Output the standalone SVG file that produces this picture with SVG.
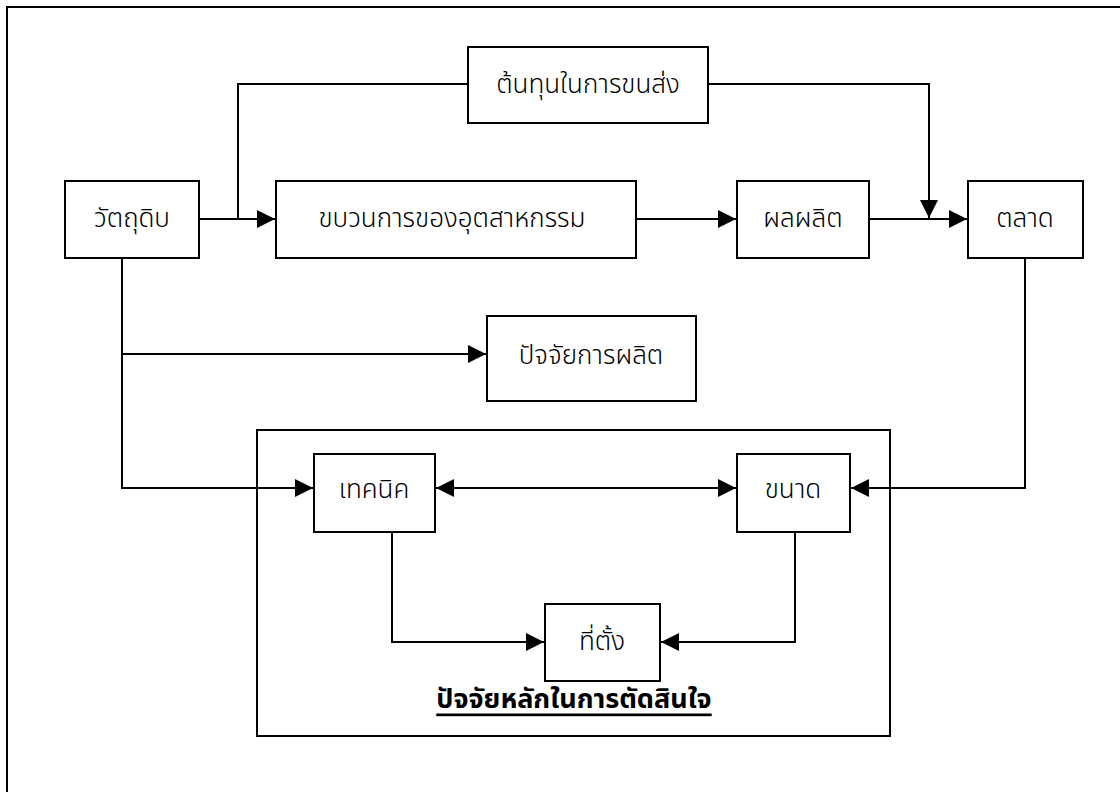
<svg xmlns="http://www.w3.org/2000/svg" width="1120" height="792" viewBox="0 0 1120 792">
<style>
.box{fill:#fff;stroke:#000;stroke-width:2}
.frame{fill:none;stroke:#000;stroke-width:2}
.ln{fill:none;stroke:#000;stroke-width:2}
.t{font-family:"Noto Sans Thai","Noto Sans","DejaVu Sans",sans-serif;font-size:26px;font-weight:300;fill:#000;text-anchor:middle;dominant-baseline:central}
.tb{font-size:27px;font-weight:bold;text-decoration:underline}
</style>
<defs>
<marker id="ah" markerUnits="userSpaceOnUse" markerWidth="20" markerHeight="18" refX="18" refY="9" orient="auto-start-reverse">
<path d="M0,0 L18,9 L0,18 Z" fill="#000"/>
</marker>
</defs>
<rect width="1120" height="792" fill="#fff"/>
<path class="frame" d="M7,792 V7 H1120"/>
<g id="group-main">
<rect class="box" x="257" y="430" width="633" height="306"/>
<text class="t tb" x="574" y="699">ปัจจัยหลักในการตัดสินใจ</text>
</g>
<g id="connectors">
<path class="ln" d="M199,219 H275" marker-end="url(#ah)"/>
<path class="ln" d="M238,219 V84 H468"/>
<path class="ln" d="M636,219 H736" marker-end="url(#ah)"/>
<path class="ln" d="M869,219 H967" marker-end="url(#ah)"/>
<path class="ln" d="M708,84 H929 V218" marker-end="url(#ah)"/>
<path class="ln" d="M122,258 V488 H313" marker-end="url(#ah)"/>
<path class="ln" d="M122,354 H486" marker-end="url(#ah)"/>
<path class="ln" d="M1025,258 V488 H851" marker-end="url(#ah)"/>
<path class="ln" d="M436,488 H736" marker-start="url(#ah)" marker-end="url(#ah)"/>
<path class="ln" d="M392,532 V642 H544" marker-end="url(#ah)"/>
<path class="ln" d="M795,532 V642 H661" marker-end="url(#ah)"/>
</g>
<g id="n-raw"><rect class="box" x="65" y="181" width="134" height="77"/><text class="t" x="132" y="219">วัตถุดิบ</text></g>
<g id="n-cost"><rect class="box" x="468" y="47" width="240" height="76"/><text class="t" x="588" y="85">ต้นทุนในการขนส่ง</text></g>
<g id="n-process"><rect class="box" x="276" y="181" width="360" height="77"/><text class="t" x="452" y="219">ขบวนการของอุตสาหกรรม</text></g>
<g id="n-product"><rect class="box" x="737" y="181" width="132" height="77"/><text class="t" x="803" y="219">ผลผลิต</text></g>
<g id="n-market"><rect class="box" x="968" y="181" width="115" height="77"/><text class="t" x="1025" y="219">ตลาด</text></g>
<g id="n-factor"><rect class="box" x="487" y="316" width="209" height="85"/><text class="t" x="591" y="356">ปัจจัยการผลิต</text></g>
<g id="n-tech"><rect class="box" x="314" y="454" width="121" height="78"/><text class="t" x="374" y="490">เทคนิค</text></g>
<g id="n-size"><rect class="box" x="737" y="454" width="113" height="78"/><text class="t" x="793" y="490">ขนาด</text></g>
<g id="n-loc"><rect class="box" x="545" y="604" width="115" height="77"/><text class="t" x="602" y="642">ที่ตั้ง</text></g>
</svg>
